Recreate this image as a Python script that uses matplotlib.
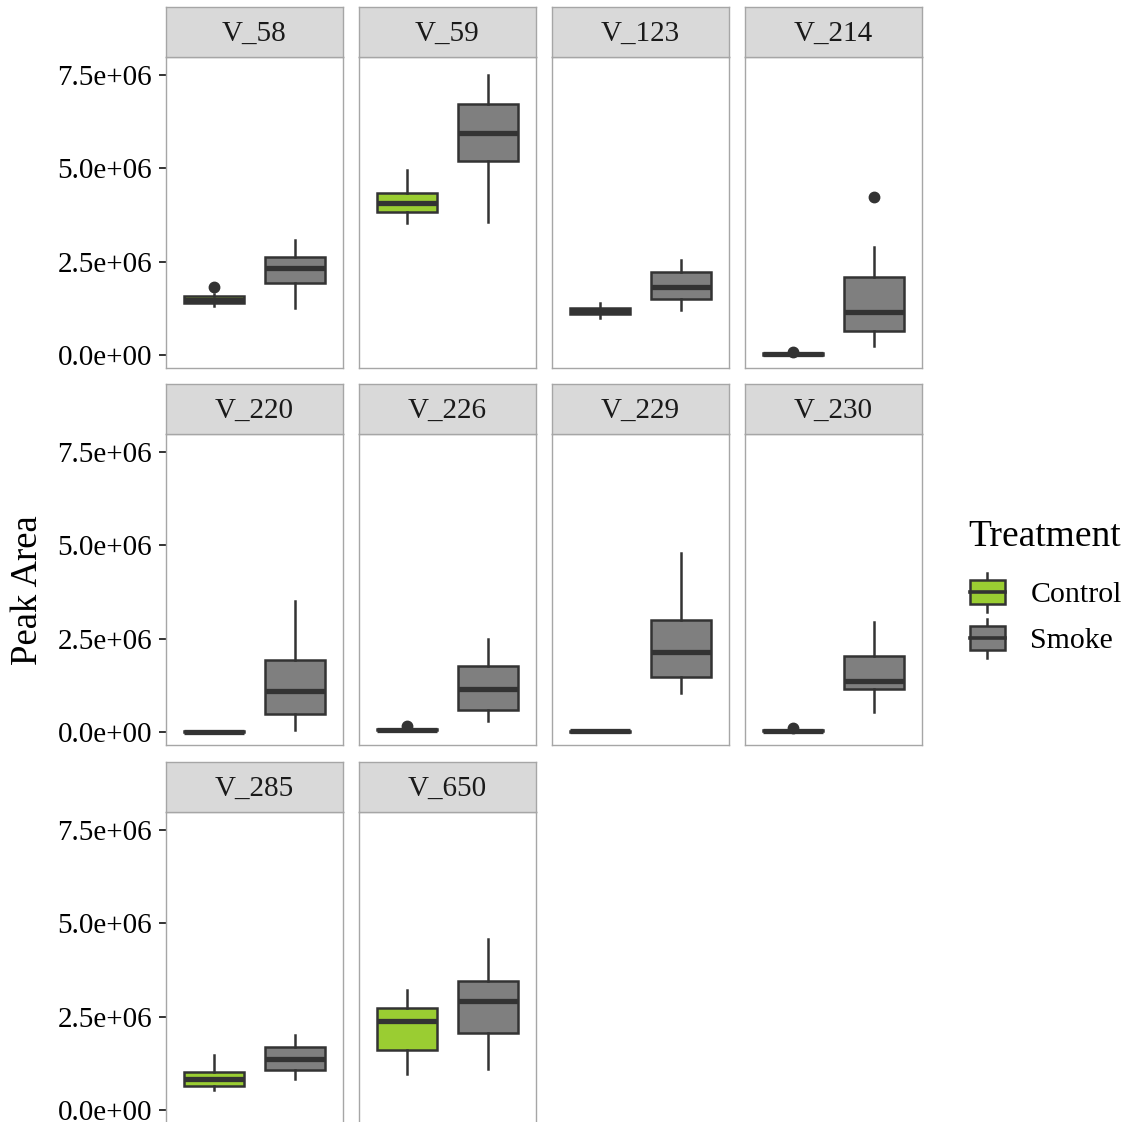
import matplotlib.pyplot as plt
from matplotlib.patches import Rectangle
from matplotlib.lines import Line2D
from matplotlib.legend_handler import HandlerBase

plt.rcParams['font.family'] = ['Liberation Serif', 'DejaVu Serif']

# box statistics per compound, in units of 1e6 peak area
compounds = ["V_58", "V_59", "V_123", "V_214", "V_220", "V_226",
             "V_229", "V_230", "V_285", "V_650"]

ctrl_lo  = [1.31, 3.54, 0.98, 0.00, 0.000, 0.03, 0.00, 0.00, 0.54, 0.96]
ctrl_q1  = [1.39, 3.84, 1.10, 0.01, 0.005, 0.05, 0.01, 0.02, 0.63, 1.60]
ctrl_med = [1.47, 4.06, 1.18, 0.03, 0.010, 0.06, 0.02, 0.03, 0.84, 2.37]
ctrl_q3  = [1.59, 4.33, 1.27, 0.05, 0.015, 0.08, 0.03, 0.04, 1.02, 2.72]
ctrl_hi  = [1.62, 4.94, 1.40, 0.06, 0.020, 0.10, 0.04, 0.06, 1.47, 3.21]
ctrl_out = [[1.83], [], [], [0.08], [], [0.16], [], [0.11], [], []]

smoke_lo  = [1.25, 3.55, 1.21, 0.25, 0.06, 0.29, 1.03, 0.54, 0.82, 1.09]
smoke_q1  = [1.92, 5.19, 1.49, 0.64, 0.47, 0.58, 1.47, 1.14, 1.07, 2.06]
smoke_med = [2.32, 5.95, 1.81, 1.14, 1.09, 1.14, 2.13, 1.36, 1.36, 2.92]
smoke_q3  = [2.62, 6.72, 2.22, 2.10, 1.92, 1.76, 2.99, 2.03, 1.69, 3.46]
smoke_hi  = [3.08, 7.50, 2.53, 2.88, 3.51, 2.50, 4.80, 2.95, 2.00, 4.57]
smoke_out = [[], [], [], [4.22], [], [], [], [], [], []]

treatments = ["Control", "Smoke"]
fills = ["#9ACD32", "#7F7F7F"]

y_ticks = [0, 2.5e6, 5.0e6, 7.5e6]
y_tick_labels = ["0.0e+00", "2.5e+06", "5.0e+06", "7.5e+06"]

ink = "#333333"
frame = "#A6A6A6"
W, H = 1128, 1122

fig = plt.figure(figsize=(W / 100, H / 100), dpi=100)


def px_axes(left, top, w, h):
    return fig.add_axes([left / W, 1 - (top + h) / H, w / W, h / H])


col_left = [166, 359, 552, 745]
panel_top = [57, 434, 812]
panel_w, panel_h, strip_h = 177, 311, 50


def stat(lo, q1, med, q3, hi, out):
    s = 1e6
    return dict(whislo=lo * s, q1=q1 * s, med=med * s, q3=q3 * s,
                whishi=hi * s, fliers=[v * s for v in out])


for i, name in enumerate(compounds):
    row, col = divmod(i, 4)
    ax = px_axes(col_left[col], panel_top[row], panel_w, panel_h)
    stats = [
        stat(ctrl_lo[i], ctrl_q1[i], ctrl_med[i], ctrl_q3[i], ctrl_hi[i], ctrl_out[i]),
        stat(smoke_lo[i], smoke_q1[i], smoke_med[i], smoke_q3[i], smoke_hi[i], smoke_out[i]),
    ]
    bp = ax.bxp(stats, positions=[1, 2], widths=0.75, patch_artist=True,
                showcaps=False,
                boxprops=dict(linewidth=1.8, edgecolor=ink),
                medianprops=dict(color=ink, linewidth=3.8, solid_capstyle='butt'),
                whiskerprops=dict(color=ink, linewidth=1.8),
                flierprops=dict(marker='o', markerfacecolor=ink,
                                markeredgecolor=ink, markersize=7.5))
    for patch, fc in zip(bp['boxes'], fills):
        patch.set_facecolor(fc)

    ax.set_xlim(0.4, 2.6)
    ax.set_ylim(-0.35e6, 7.98e6)
    ax.set_xticks([])
    for sp in ax.spines.values():
        sp.set_color(frame)
        sp.set_linewidth(1.0)
    if col == 0:
        ax.set_yticks(y_ticks)
        ax.set_yticklabels(y_tick_labels, fontsize=21)
        ax.tick_params(axis='y', length=5, width=1.4, color=ink, pad=5,
                       labelcolor='black')
    else:
        ax.set_yticks([])

    sax = px_axes(col_left[col], panel_top[row] - strip_h, panel_w, strip_h)
    sax.set_facecolor("#D9D9D9")
    sax.set_xticks([])
    sax.set_yticks([])
    for sp in sax.spines.values():
        sp.set_color(frame)
        sp.set_linewidth(1.0)
    sax.text(0.5, 0.46, name, ha='center', va='center', fontsize=21,
             color='#1A1A1A', transform=sax.transAxes)

fig.text(28 / W, 1 - 590 / H, "Peak Area", rotation=90, ha='center',
         va='center', fontsize=26.5)


class BoxKey(HandlerBase):
    def create_artists(self, legend, orig_handle, xdescent, ydescent,
                       width, height, fontsize, trans):
        x0, y0 = -xdescent, -ydescent
        cx = x0 + width / 2
        whisk = Line2D([cx, cx], [y0, y0 + height], color=ink, lw=1.8,
                       transform=trans)
        box = Rectangle((x0, y0 + height * 0.19), width, height * 0.62,
                        facecolor=orig_handle.get_facecolor(), edgecolor=ink,
                        lw=1.8, transform=trans)
        med = Line2D([x0, x0 + width], [y0 + height / 2] * 2, color=ink,
                     lw=2.6, transform=trans)
        return [whisk, box, med]


# legend title placed on its own, entries below it
fig.text(968 / W, 1 - 537 / H, "Treatment", ha='left', va='center',
         fontsize=27)

handles = [Rectangle((0, 0), 1, 1, facecolor=fc) for fc in fills]
leg = fig.legend(handles, treatments,
                 handler_map={Rectangle: BoxKey()},
                 loc='upper left', bbox_to_anchor=(970 / W, 1 - 573 / H),
                 frameon=False, fontsize=21.5,
                 handlelength=1.17, handleheight=1.62, labelspacing=0.24,
                 handletextpad=0.85, borderpad=0, borderaxespad=0)

fig.savefig("out.png", dpi=100)
